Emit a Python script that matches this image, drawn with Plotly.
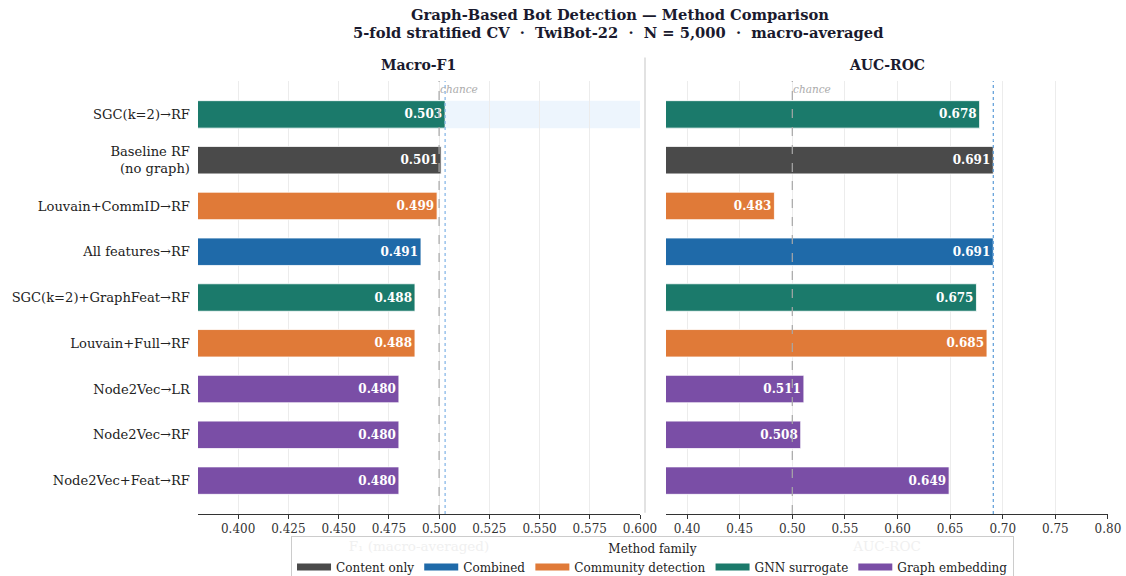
import plotly.graph_objects as go

# Methods, top row first
methods = [
    "SGC(k=2)→RF",
    "Baseline RF<br>(no graph)",
    "Louvain+CommID→RF",
    "All features→RF",
    "SGC(k=2)+GraphFeat→RF",
    "Louvain+Full→RF",
    "Node2Vec→LR",
    "Node2Vec→RF",
    "Node2Vec+Feat→RF",
]
families = [
    "GNN surrogate",
    "Content only",
    "Community detection",
    "Combined",
    "GNN surrogate",
    "Community detection",
    "Graph embedding",
    "Graph embedding",
    "Graph embedding",
]
macro_f1 = [0.503, 0.501, 0.499, 0.491, 0.488, 0.488, 0.480, 0.480, 0.480]
auc_roc = [0.678, 0.691, 0.483, 0.691, 0.675, 0.685, 0.511, 0.508, 0.649]

family_order = ["Content only", "Combined", "Community detection",
                "GNN surrogate", "Graph embedding"]
family_colors = {
    "Content only": "#4a4a4a",
    "Combined": "#1f6aa9",
    "Community detection": "#e07a38",
    "GNN surrogate": "#1b7a6b",
    "Graph embedding": "#7a4ea6",
}
chance_level = 0.5
f1_ticks = [0.400, 0.425, 0.450, 0.475, 0.500, 0.525, 0.550, 0.575, 0.600]
auc_ticks = [0.40, 0.45, 0.50, 0.55, 0.60, 0.65, 0.70, 0.75, 0.80]

FONT = "DejaVu Serif"
rows = list(range(len(methods)))
bar_colors = [family_colors[f] for f in families]

fig = go.Figure()


def add_panel(values, xa, ya, fmt):
    fig.add_trace(go.Bar(
        x=values, y=rows, orientation="h", width=0.6,
        marker=dict(color=bar_colors, line=dict(color="white", width=0.8)),
        text=[fmt.format(v) for v in values],
        textposition="inside", insidetextanchor="end", textangle=0,
        constraintext="none",
        textfont=dict(family=FONT, size=12, color="white", weight="bold"),
        xaxis=xa, yaxis=ya, showlegend=False, hoverinfo="x+y",
    ))


add_panel(macro_f1, "x", "y", "{:.3f}")
add_panel(auc_roc, "x2", "y2", "{:.3f}")

# Legend entries (one per method family)
for fam in family_order:
    fig.add_trace(go.Scatter(
        x=[None], y=[None], mode="lines", name=fam,
        line=dict(color=family_colors[fam], width=7),
        xaxis="x", yaxis="y",
    ))

# Highlight band behind the best Macro-F1 row
best_f1_row = max(rows, key=lambda i: macro_f1[i])
fig.add_shape(type="rect", xref="x domain", yref="y",
              x0=0, x1=1, y0=best_f1_row - 0.3, y1=best_f1_row + 0.3,
              fillcolor="#edf5fd", line_width=0, layer="below")

# Chance and best-value reference lines
for xr, best, best_col in (("x", max(macro_f1), "#7fb3e6"),
                           ("x2", max(auc_roc), "#5b9bd8")):
    dom = "y domain" if xr == "x" else "y2 domain"
    fig.add_shape(type="line", xref=xr, yref=dom, x0=chance_level, x1=chance_level,
                  y0=0, y1=1, line=dict(color="#a8a8a8", width=1.2, dash="dash"))
    fig.add_shape(type="line", xref=xr, yref=dom, x0=best, x1=best,
                  y0=0, y1=1, line=dict(color=best_col, width=1.2, dash="dot"))
    fig.add_annotation(x=chance_level, y=1.0, xref=xr, yref=dom,
                       text="<i>chance</i>", showarrow=False, xanchor="left",
                       yanchor="top", xshift=-1,
                       font=dict(family=FONT, size=10.5, color="#ababab"))

# Separator between panels
fig.add_shape(type="line", xref="paper", yref="paper", x0=0.5728, x1=0.5728,
              y0=0.11, y1=0.90, line=dict(color="#e2e2e2", width=2))

axis_common = dict(
    showgrid=True, gridcolor="#ececec", gridwidth=1,
    showline=True, linecolor="#333333", linewidth=1,
    ticks="outside", ticklen=4, tickcolor="#333333",
    tickfont=dict(family=FONT, size=12, color="#333333"),
    zeroline=False, automargin=False,
)
title_font = dict(family=FONT, size=14.7, color="#1a1a2e")
fig.update_layout(
    width=1126, height=576,
    margin=dict(l=0, r=0, t=0, b=0, autoexpand=False),
    paper_bgcolor="white", plot_bgcolor="white",
    font=dict(family=FONT, color="#222222"),
    xaxis=dict(domain=[0.1758, 0.5684], range=[0.38, 0.60],
               tickvals=f1_ticks, ticktext=[f"{t:.3f}" for t in f1_ticks],
               title=dict(text="F₁ (macro-averaged)", standoff=6,
                          font=dict(family=FONT, size=13.5, color="#f0f0f0")),
               anchor="y", **axis_common),
    xaxis2=dict(domain=[0.5915, 0.984], range=[0.38, 0.80],
                tickvals=auc_ticks, ticktext=[f"{t:.2f}" for t in auc_ticks],
                title=dict(text="AUC-ROC", standoff=6,
                           font=dict(family=FONT, size=13.5, color="#f0f0f0")),
                anchor="y2", **axis_common),
    yaxis=dict(domain=[0.1076, 0.8594], range=[8.73, -0.73],
               tickvals=rows, ticktext=methods, showgrid=False, zeroline=False,
               ticks="", ticklabelstandoff=7, automargin=False,
               tickfont=dict(family=FONT, size=13.1, color="#222222"),
               anchor="x"),
    yaxis2=dict(domain=[0.1076, 0.8594], range=[8.73, -0.73],
                showticklabels=False, showgrid=False, zeroline=False,
                automargin=False, anchor="x2"),
    legend=dict(
        orientation="h", x=0.5795, xanchor="center", y=1 - 536 / 576, yanchor="top",
        bgcolor="rgba(255,255,255,0.92)", bordercolor="#cccccc", borderwidth=1,
        font=dict(family=FONT, size=12, color="#222222"),
        title=dict(text="Method family", side="top center",
                   font=dict(family=FONT, size=12, color="#222222")),
        itemwidth=34, tracegroupgap=0,
    ),
    annotations=list(fig.layout.annotations) + [
        dict(text="<b>Graph-Based Bot Detection — Method Comparison</b>",
             x=0.5505, y=1 - 15 / 576, xref="paper", yref="paper",
             showarrow=False, xanchor="center", yanchor="middle", font=title_font),
        dict(text="<b>5-fold stratified CV  ·  TwiBot-22  ·  N = 5,000  ·  macro-averaged</b>",
             x=0.5485, y=1 - 33 / 576, xref="paper", yref="paper",
             showarrow=False, xanchor="center", yanchor="middle", font=title_font),
        dict(text="<b>Macro-F1</b>", x=0.372, y=1 - 65 / 576, xref="paper", yref="paper",
             showarrow=False, xanchor="center", yanchor="middle",
             font=dict(family=FONT, size=14, color="#1a1a2e")),
        dict(text="<b>AUC-ROC</b>", x=0.7877, y=1 - 65 / 576, xref="paper", yref="paper",
             showarrow=False, xanchor="center", yanchor="middle",
             font=dict(family=FONT, size=14, color="#1a1a2e")),
    ],
)

fig.write_html("out.html")
